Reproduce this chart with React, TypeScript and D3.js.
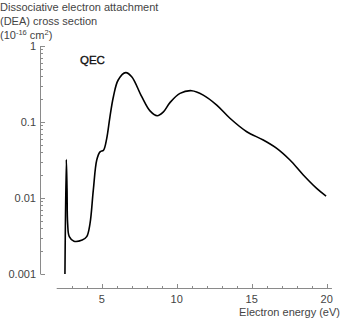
import React, { useRef, useEffect } from 'react';
import * as d3 from 'd3';

const energy = [
  2.55, 2.64, 2.69, 2.73, 2.84, 3.15, 3.7, 4.0, 4.22, 4.44, 4.67, 4.89, 5.12,
  5.33, 5.55, 5.78, 6.1, 6.6, 7.0, 7.67, 8.22, 8.7, 9.1, 9.55, 10.22, 11.0,
  11.77, 12.67, 13.55, 14.67, 15.77, 16.67, 17.55, 18.44, 19.33, 19.96,
];
const crossSection = [
  0.001, 0.032, 0.0127, 0.0046, 0.0031, 0.0027, 0.0028, 0.0031, 0.0046, 0.0127,
  0.0316, 0.0405, 0.0426, 0.06, 0.117, 0.215, 0.357, 0.446, 0.394, 0.215, 0.14,
  0.121, 0.135, 0.18, 0.238, 0.258, 0.226, 0.167, 0.112, 0.0745, 0.058, 0.045,
  0.0316, 0.0201, 0.0134, 0.0106,
];
const xTicks = [5, 10, 15, 20];
const yTicks = [1, 0.1, 0.01, 0.001];
const yTickLabels = ['1', '0.1', '0.01', '0.001'];
const titleLines = ['Dissociative electron attachment', '(DEA) cross section'];

export default function App() {
  const ref = useRef(null);

  useEffect(() => {
    document.body.style.margin = '0';
    const width = 342;
    const height = 319;
    const font = 'Liberation Sans, Arial, sans-serif';
    const axisColor = '#8a8a8a';
    const textColor = '#444';

    const svg = d3
      .select(ref.current)
      .call((g) => g.select('svg').remove())
      .append('svg')
      .attr('width', width)
      .attr('height', height)
      .style('display', 'block')
      .style('font-family', font);

    const x = d3.scaleLinear().domain([0, 20]).range([26.7, 326.7]);
    const y = d3.scaleLog().domain([0.001, 1]).range([274, 46]);

    // y axis (ticks pointing inward)
    const yAxisX = 40.5;
    svg.append('line')
      .attr('x1', yAxisX).attr('x2', yAxisX)
      .attr('y1', y(1)).attr('y2', y(0.001))
      .attr('stroke', axisColor).attr('stroke-width', 1);

    const minorY = [];
    [0.001, 0.01, 0.1].forEach((d) => {
      for (let k = 2; k <= 9; k++) minorY.push(d * k);
    });
    svg.append('g').selectAll('line').data(minorY).join('line')
      .attr('x1', yAxisX).attr('x2', yAxisX + 2.5)
      .attr('y1', (d) => Math.round(y(d)) + 0.5).attr('y2', (d) => Math.round(y(d)) + 0.5)
      .attr('stroke', axisColor);
    svg.append('g').selectAll('line').data(yTicks).join('line')
      .attr('x1', yAxisX).attr('x2', yAxisX + 4.5)
      .attr('y1', (d) => Math.round(y(d)) + 0.5).attr('y2', (d) => Math.round(y(d)) + 0.5)
      .attr('stroke', axisColor);
    svg.append('g').selectAll('text').data(yTicks).join('text')
      .attr('x', 36)
      .attr('y', (d) => y(d) + 4)
      .attr('text-anchor', 'end')
      .attr('font-size', 11)
      .attr('fill', textColor)
      .text((d, i) => yTickLabels[i]);

    // x axis (ticks pointing up)
    const xAxisY = 288.5;
    svg.append('line')
      .attr('x1', x(2)).attr('x2', x(20.35))
      .attr('y1', xAxisY).attr('y2', xAxisY)
      .attr('stroke', axisColor);
    const minorX = d3.range(3, 21).filter((d) => d % 5 !== 0);
    svg.append('g').selectAll('line').data(minorX).join('line')
      .attr('x1', (d) => Math.round(x(d)) + 0.5).attr('x2', (d) => Math.round(x(d)) + 0.5)
      .attr('y1', xAxisY).attr('y2', xAxisY - 2.5)
      .attr('stroke', axisColor);
    svg.append('g').selectAll('line').data(xTicks).join('line')
      .attr('x1', (d) => Math.round(x(d)) + 0.5).attr('x2', (d) => Math.round(x(d)) + 0.5)
      .attr('y1', xAxisY).attr('y2', xAxisY - 4.5)
      .attr('stroke', axisColor);
    svg.append('g').selectAll('text').data(xTicks).join('text')
      .attr('x', (d) => x(d))
      .attr('y', 303)
      .attr('text-anchor', 'middle')
      .attr('font-size', 11)
      .attr('fill', textColor)
      .text((d) => d);

    svg.append('text')
      .attr('x', 340).attr('y', 316)
      .attr('text-anchor', 'end')
      .attr('font-size', 11)
      .attr('fill', textColor)
      .text('Electron energy (eV)');

    // title
    titleLines.forEach((t, i) => {
      svg.append('text')
        .attr('x', 0).attr('y', 11 + i * 14)
        .attr('font-size', 11)
        .attr('fill', textColor)
        .text(t);
    });
    const unit = svg.append('text')
      .attr('x', 0).attr('y', 39)
      .attr('font-size', 11)
      .attr('fill', textColor);
    unit.append('tspan').text('(10');
    unit.append('tspan').attr('font-size', 7.5).attr('dy', -4).text('-16');
    unit.append('tspan').attr('dy', 4).text(' cm');
    unit.append('tspan').attr('font-size', 7.5).attr('dy', -4).text('2');
    unit.append('tspan').attr('dy', 4).text(')');

    // curve
    const points = energy.map((e, i) => [e, crossSection[i]]);
    const line = d3.line()
      .x((d) => x(d[0]))
      .y((d) => y(d[1]))
      .curve(d3.curveCatmullRom.alpha(0.5));
    svg.append('path')
      .datum(points)
      .attr('fill', 'none')
      .attr('stroke', '#000')
      .attr('stroke-width', 1.6)
      .attr('stroke-linejoin', 'round')
      .attr('d', line);

    svg.append('text')
      .attr('x', 80).attr('y', 64)
      .attr('font-size', 11.5)
      .attr('fill', '#111')
      .attr('stroke', '#111')
      .attr('stroke-width', 0.35)
      .text('QEC');
  }, []);

  return <div ref={ref}></div>;
}
